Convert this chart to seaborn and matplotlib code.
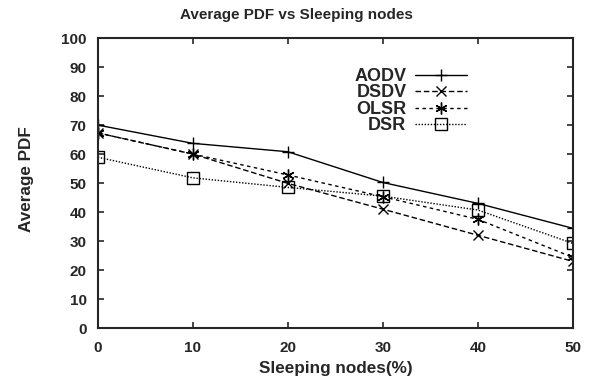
import pandas as pd
import numpy as np
import matplotlib.pyplot as plt
import seaborn as sns

# --- data ---
sleeping = [0, 10, 20, 30, 40, 50]
aodv = [70.0, 63.7, 60.8, 50.2, 43.0, 34.4]
dsdv = [67.3, 60.0, 49.9, 41.0, 32.0, 23.0]
olsr = [67.3, 60.0, 52.8, 45.3, 37.5, 24.4]
dsr = [58.9, 51.8, 48.5, 45.5, 40.7, 29.2]

protocols = ['AODV', 'DSDV', 'OLSR', 'DSR']
series = [aodv, dsdv, olsr, dsr]

rows = []
for name, vals in zip(protocols, series):
    for x, v in zip(sleeping, vals):
        rows.append({'Sleeping': x, 'PDF': v, 'Protocol': name})
df = pd.DataFrame(rows)

sns.set_style("ticks")
plt.rcParams['font.family'] = ['Liberation Sans', 'DejaVu Sans']
plt.rcParams['font.weight'] = 'bold'

fig = plt.figure(figsize=(5.93, 3.81), dpi=100)
ax = fig.add_axes([0.165, 0.139, 0.801, 0.761])

# linestyle, marker, marker size
styles = {'AODV': ('-', '+', 8), 'DSDV': ((0, (4, 2)), 'x', 7.5),
          'OLSR': ((0, (2.5, 2.5)), (6, 2, 0), 8.5), 'DSR': ((0, (1, 1.2)), 's', 8)}

for name in protocols:
    ls, mk, ms = styles[name]
    sub = df[df['Protocol'] == name]
    sns.lineplot(data=sub, x='Sleeping', y='PDF', ax=ax, color='black',
                 linestyle=ls, linewidth=1.0, marker=mk, markersize=ms,
                 markerfacecolor='none', markeredgecolor='black',
                 markeredgewidth=1.0, label=name)

ax.set_xlim(0, 50)
ax.set_ylim(0, 100)
ax.set_xticks(sleeping)
ax.set_yticks(np.arange(0, 101, 10))
ax.tick_params(direction='in', top=True, right=True, length=4, width=1.2,
               labelsize=11)
ax.tick_params(axis='y', pad=8)
ax.tick_params(axis='x', pad=9)
for lbl in ax.get_xticklabels() + ax.get_yticklabels():
    lbl.set_fontweight('bold')
for sp in ax.spines.values():
    sp.set_linewidth(1.5)

fig.text(0.5, 0.96, 'Average PDF vs Sleeping nodes', fontsize=11,
         fontweight='bold', ha='center', va='center')
ax.set_xlabel('Sleeping nodes(%)', fontsize=12.3, fontweight='bold')
ax.set_ylabel('Average PDF', fontsize=12.3, fontweight='bold')
ax.xaxis.set_label_coords(0.5, -0.115)
ax.yaxis.set_label_coords(-0.135, 0.515)

leg = ax.legend(loc='upper right', bbox_to_anchor=(0.777, 0.897), frameon=False,
                markerfirst=False, handlelength=2.85, labelspacing=-0.03,
                handletextpad=0.5, borderpad=0, borderaxespad=0,
                prop={'size': 13, 'weight': 'bold'})
for t in leg.get_texts():
    t.set_ha('right')

fig.savefig('out.png', dpi=100)
